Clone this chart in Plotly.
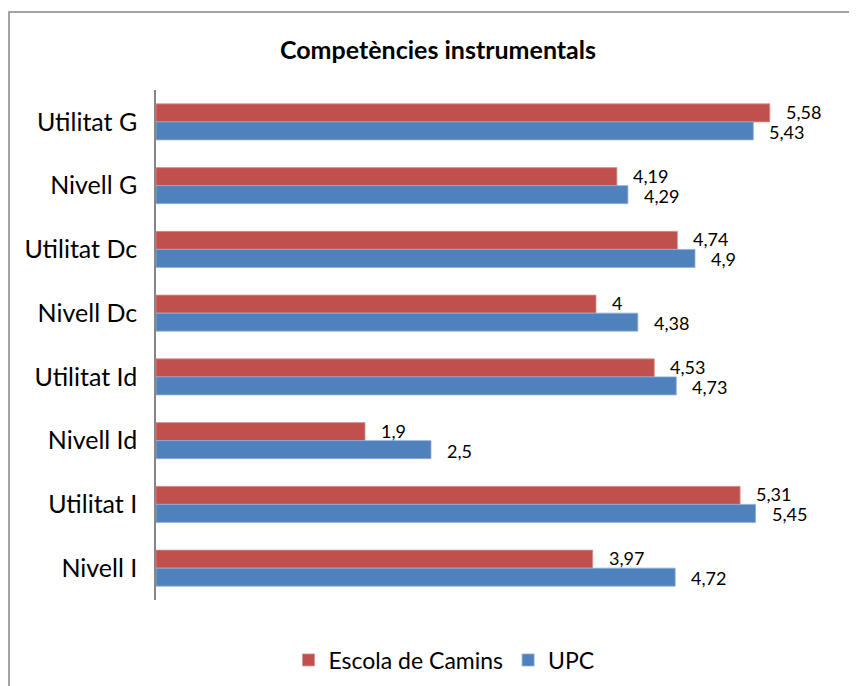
import plotly.graph_objects as go

# categories, top to bottom
categories = ["Utilitat G", "Nivell G", "Utilitat Dc", "Nivell Dc",
              "Utilitat Id", "Nivell Id", "Utilitat I", "Nivell I"]
escola = [5.58, 4.19, 4.74, 4.0, 4.53, 1.9, 5.31, 3.97]
upc = [5.43, 4.29, 4.9, 4.38, 4.73, 2.5, 5.45, 4.72]


def fmt(v):
    # catalan style decimals
    return f"{v:g}".replace(".", ",")


FONT = "Lato, 'Open Sans', sans-serif"
W, H = 849, 678   # page body has an 8px margin

fig = go.Figure()

fig.add_trace(go.Bar(
    y=categories,
    x=escola,
    orientation="h",
    name="Escola de Camins",
    marker=dict(color="#C0504D", line=dict(color="#D9908E", width=0.8)),
))

fig.add_trace(go.Bar(
    y=categories,
    x=upc,
    orientation="h",
    name="UPC",
    marker=dict(color="#4F81BD", line=dict(color="#8EAEDB", width=0.8)),
))

# data labels, a bit away from the bar ends like in Excel
annotations = []
for series, shift in ((escola, 10), (upc, -10)):
    for cat, v in zip(categories, series):
        annotations.append(dict(
            x=v, y=cat, xref="x", yref="y",
            text=fmt(v), showarrow=False,
            xanchor="left", yanchor="middle",
            xshift=14, yshift=shift,
            font=dict(size=18, family=FONT, color="#000000"),
        ))

fig.update_layout(
    width=W,
    height=H,
    margin=dict(l=148, r=41, t=82, b=86),
    paper_bgcolor="white",
    plot_bgcolor="white",
    barmode="group",
    bargap=0.435,
    bargroupgap=0,
    font=dict(family=FONT, color="#000000"),
    title=dict(
        text="<b>Competències instrumentals</b>",
        x=430 / W, xanchor="center",
        y=1 - 42 / H, yanchor="middle",
        font=dict(size=25, family=FONT, color="#000000"),
    ),
    legend=dict(
        orientation="h",
        xref="container", yref="container",
        x=436 / W, xanchor="center",
        y=1 - 652 / H, yanchor="middle",
        font=dict(size=23, family=FONT),
        itemwidth=30,
    ),
    xaxis=dict(
        range=[0, 6],
        visible=False,
    ),
    yaxis=dict(
        autorange="reversed",
        showline=True,
        linecolor="#868686",
        linewidth=1.5,
        ticks="",
        ticklabelstandoff=12,
        showgrid=False,
        tickfont=dict(size=25, family=FONT),
    ),
    annotations=annotations,
    shapes=[
        # chart frame, only top and left edges are inside the crop
        dict(type="rect", xref="paper", yref="paper",
             x0=(1 - 148) / 660, x1=1.3,
             y0=-0.5, y1=(592 - 4) / 510,
             line=dict(color="#878787", width=1.5),
             layer="below"),
    ],
)

fig.write_html("out.html")
